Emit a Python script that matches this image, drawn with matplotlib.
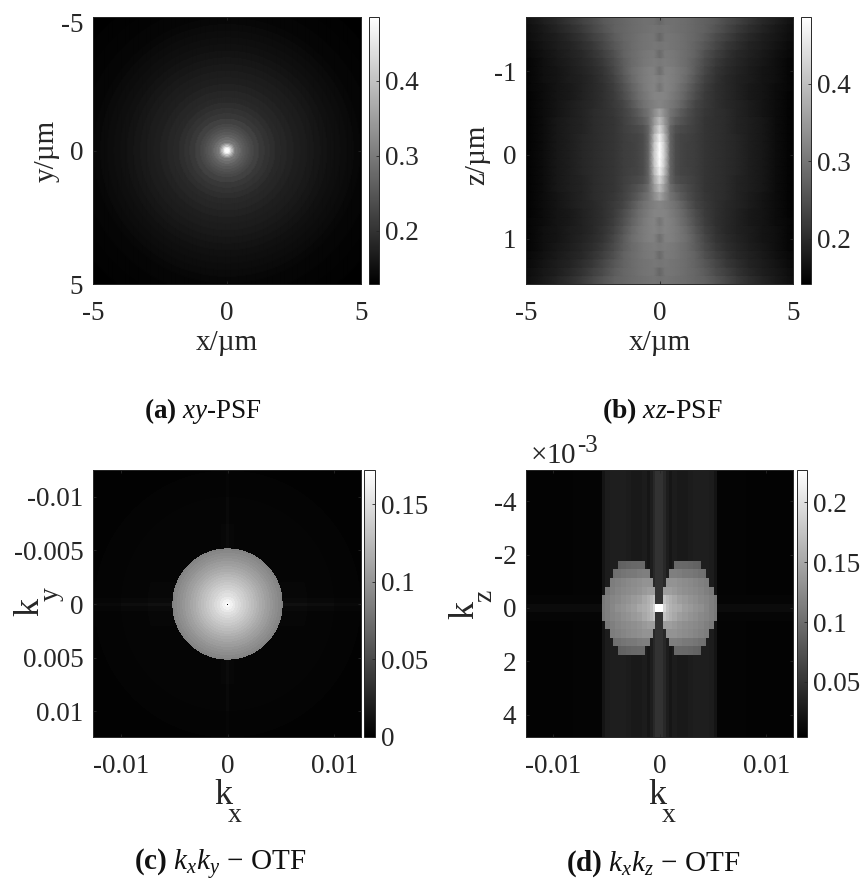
import numpy as np
import matplotlib
matplotlib.use("Agg")
from matplotlib import pyplot as plt
from matplotlib.transforms import ScaledTranslation

plt.rcParams['font.family'] = ['Liberation Serif', 'DejaVu Serif']
plt.rcParams['mathtext.fontset'] = 'custom'
plt.rcParams['mathtext.rm'] = 'Liberation Serif'
plt.rcParams['mathtext.it'] = 'Liberation Serif:italic'
plt.rcParams['mathtext.bf'] = 'Liberation Serif:bold'
plt.rcParams['axes.unicode_minus'] = False

W, H = 860, 882
INK = "#262626"

# panel a: radial rings of the xy-PSF
a_ring_r = [.05, .1, .15, .2, .25, .3, .4, .5, .6, .7, .8, .9, 1.0, 1.2, 1.4, 1.6, 1.8, 2.0, 2.25, 2.5,
            2.75, 3.0, 3.25, 3.5, 3.75, 4.0, 4.25, 4.5, 4.75, 5.0, 5.5, 6.0, 6.5, 7.2]
a_ring_v = [.485, .48, .45, .40, .36, .325, .295, .28, .265, .255, .245, .237, .23, .22, .208, .200, .193, .187,
            .182, .177, .172, .168, .164, .160, .156, .152, .149, .146, .143, .140, .137, .134, .132, .130]

# panel b: xz-PSF, rows are |z| = 0, 0.1 .. 1.6, columns sit at b_col_x
b_col_x = [0, .2, .4, .6, .8, 1.05, 1.35, 1.7, 2.1, 2.5, 2.9, 3.35, 3.85, 4.35, 4.8, 5.2]
b_table = [
    [.486, .410, .280, .245, .235, .228, .225, .214, .207, .200, .194, .183, .173, .159, .149, .144],
    [.482, .405, .280, .245, .235, .228, .225, .214, .207, .200, .194, .183, .173, .159, .149, .144],
    [.465, .390, .280, .245, .235, .231, .225, .214, .207, .200, .194, .183, .173, .159, .149, .144],
    [.430, .365, .280, .252, .242, .235, .227, .214, .207, .200, .190, .183, .173, .159, .149, .144],
    [.395, .345, .292, .268, .255, .242, .228, .214, .207, .200, .190, .183, .173, .159, .149, .144],
    [.360, .330, .298, .282, .265, .248, .232, .216, .207, .200, .190, .180, .170, .159, .149, .144],
    [.321, .315, .305, .295, .280, .258, .235, .220, .207, .197, .190, .180, .170, .159, .149, .144],
    [.320, .320, .310, .300, .288, .268, .245, .222, .207, .197, .187, .176, .170, .159, .149, .144],
    [.300, .320, .315, .305, .292, .275, .250, .226, .207, .197, .187, .176, .170, .159, .152, .146],
    [.310, .320, .315, .308, .298, .283, .258, .232, .211, .197, .187, .180, .170, .163, .152, .146],
    [.290, .315, .315, .308, .300, .288, .265, .238, .214, .200, .190, .180, .170, .163, .152, .146],
    [.305, .310, .306, .302, .295, .285, .268, .244, .221, .204, .194, .183, .173, .163, .152, .146],
    [.285, .306, .305, .301, .294, .287, .274, .250, .228, .211, .197, .187, .176, .166, .156, .150],
    [.300, .304, .300, .297, .293, .286, .276, .259, .238, .218, .204, .190, .180, .170, .159, .152],
    [.280, .300, .300, .297, .293, .286, .280, .266, .245, .228, .211, .197, .183, .173, .163, .156],
    [.295, .298, .296, .293, .290, .286, .280, .273, .255, .238, .221, .204, .190, .176, .166, .158],
    [.283, .293, .293, .293, .290, .286, .280, .273, .262, .245, .231, .214, .197, .183, .170, .162],
]

# panel c: kx-ky OTF, disc profile and the faint surroundings
c_disc_r = [.00025, .0005, .00075, .001, .00125, .0015, .00175, .002, .00225, .0025, .00275,
            .003, .00325, .0035, .00375, .004, .00425, .0045, .00475, .005, .00518]
c_disc_v = [.168, .163, .157, .151, .147, .143, .139, .135, .131, .127, .123,
            .119, .115, .112, .108, .105, .101, .098, .095, .092, .089]
c_out_r = [.0075, .010, .0125, .019]
c_out_v = [.004, .0035, .003, .002]
c_out_fade = [1, .8, .6, .5]
c_streak_w = [.00015, .0006, .002, .004]
c_streak_v = [.011, .007, .005, .004]

# panel d: kx-kz OTF, lobes per |row| and the vertical background stripes
d_col_k = [.25, .5, .75, 1.0, 1.5, 2.0, 2.5, 3.0, 3.5, 4.0, 4.5, 5.0, 5.25, 8.0, 14.0]
d_bg = [.048, .040, .030, .024, .029, .026, .026, .029, .031, .031, .031, .029, .022, .008, .007]
d_row_streak = [.014, .009]
d_lobe_in = [0, .3, .45, .55, .95, 1.4]
d_lobe_out = [5.25, 5.25, 5.05, 4.7, 4.35, 3.9]
d_lobe = [
    [.227, .190, .170, .160, .155, .151, .142, .138, .133, .129, .122, .115, .111],
    [.193, .175, .165, .158, .151, .142, .138, .133, .129, .124, .120, .115, .109],
    [.142, .142, .142, .142, .138, .133, .129, .126, .124, .120, .115, .111, .106],
    [.133, .133, .133, .133, .133, .129, .126, .124, .120, .117, .113, .109, .104],
    [.115, .115, .115, .115, .115, .113, .111, .109, .106, .104, .100, .097, .097],
    [.097, .097, .097, .097, .097, .097, .095, .093, .091, .089, .089, .089, .089],
]

# tick values and labels
a_ticks = [-5, 0, 5]
a_labels = ["-5", "0", "5"]
b_zticks = [-1, 0, 1]
b_zlabels = ["-1", "0", "1"]
c_xticks = [-.01, 0, .01]
c_xlabels = ["-0.01", "0", "0.01"]
c_yticks = [-.01, -.005, 0, .005, .01]
c_ylabels = ["-0.01", "-0.005", "0", "0.005", "0.01"]
d_zticks = [-4e-3, -2e-3, 0, 2e-3, 4e-3]
d_zlabels = ["-4", "-2", "0", "2", "4"]
cb_a = ([.2, .3, .4], ["0.2", "0.3", "0.4"], .129, .485)
cb_b = ([.2, .3, .4], ["0.2", "0.3", "0.4"], .142, .486)
cb_c = ([0, .05, .1, .15], ["0", "0.05", "0.1", "0.15"], 0, .172)
cb_d = ([.05, .1, .15, .2], ["0.05", "0.1", "0.15", "0.2"], .004, .227)


def box(x0, y0, x1, y1):
    return [x0 / W, 1 - y1 / H, (x1 - x0) / W, (y1 - y0) / H]


def lookup(vals, edges, q):
    idx = np.searchsorted(edges, q, side="left")
    return np.asarray(vals)[np.clip(idx, 0, len(vals) - 1)]


# build the images
g = np.linspace(-5, 5, 267)
X, Y = np.meshgrid(g, g)
img_a = lookup(a_ring_v, a_ring_r, np.hypot(X, Y))

# panel b goes through a gouraud mesh: smooth across x, blocky rows in z
b_rows = np.arange(-16, 16)
b_half = np.asarray(b_table)
b_full = np.hstack([b_half[:, :0:-1], b_half])[np.abs(b_rows)]
b_mesh_x = np.r_[-np.asarray(b_col_x)[:0:-1], b_col_x]
b_mesh_y = np.repeat(b_rows * 0.1, 2) + np.tile([-.047, .047], len(b_rows))
b_mesh_c = np.repeat(b_full, 2, axis=0)

g = np.arange(-133, 134) * 0.0125 / 133
X, Y = np.meshgrid(g, g)
R = np.hypot(X, Y)
img_c = lookup(c_out_v, c_out_r, R)
streak = np.where(np.abs(Y) < 0.004, lookup(c_streak_v, c_streak_w, np.abs(Y)), 0)
streak = np.maximum(streak, np.where(np.abs(X) < 0.004, lookup(c_streak_v, c_streak_w, np.abs(X)) * 0.7, 0))
img_c = np.maximum(img_c, streak * lookup(c_out_fade, c_out_r, R))
img_c[R < .00518] = lookup(c_disc_v, c_disc_r, R[R < .00518])
img_c[133, 133] = 0

d_k = np.arange(-53, 54) * 0.25
d_rows = np.arange(-17, 17)
cols = np.clip(np.searchsorted(d_col_k, np.abs(d_k), side="left"), 0, 14)
img_d = np.tile(np.asarray(d_bg)[cols], (len(d_rows), 1))
for i, r in enumerate(np.abs(d_rows)):
    if r < len(d_row_streak):
        out = np.abs(d_k) > d_lobe_out[r]
        img_d[i, out] = np.maximum(img_d[i, out], d_row_streak[r])
    if r < len(d_lobe):
        m = (np.abs(d_k) >= d_lobe_in[r]) & (np.abs(d_k) <= d_lobe_out[r])
        img_d[i, m] = np.asarray(d_lobe[r])[np.clip(cols[m], 0, 12)]

fig = plt.figure(figsize=(W / 100, H / 100), dpi=100)


def panel(rect, cbrect, draw, xlim, ylim, xt, xl, yt, yl, cb):
    ax = fig.add_axes(box(*rect))
    im = draw(ax, dict(cmap="gray", vmin=cb[2], vmax=cb[3]))
    ax.set_xlim(xlim)
    ax.set_ylim(ylim)
    ax.set_xticks(xt, xl)
    ax.set_yticks(yt, yl)
    ax.tick_params(direction="in", length=2.5, width=0.6, color=INK, labelcolor=INK, labelsize=19.5,
                   top=True, right=True)
    ax.tick_params(axis="x", pad=12)
    ax.tick_params(axis="y", pad=7)
    for s in ax.spines.values():
        s.set_linewidth(0.7)
        s.set_color(INK)
    cax = fig.add_axes(box(*cbrect))
    cbar = fig.colorbar(im, cax=cax)
    cbar.set_ticks(cb[0], labels=cb[1])
    cax.tick_params(direction="in", length=2.5, width=0.6, color=INK, labelcolor=INK, labelsize=19.5, pad=4)
    cbar.outline.set_linewidth(0.7)
    cbar.outline.set_edgecolor(INK)
    return ax


def show(img, extent, interp):
    return lambda ax, kw: ax.imshow(img, extent=extent, origin="upper", aspect="auto", interpolation=interp, **kw)


ax_a = panel((93, 17, 361, 284), (369, 17, 379, 284), show(img_a, (-5, 5, 5, -5), "bilinear"), (-5, 5), (5, -5),
             a_ticks, a_labels, a_ticks, a_labels, cb_a)
ax_b = panel((526, 17, 793, 284), (801, 17, 811, 284),
             lambda ax, kw: ax.pcolormesh(b_mesh_x, b_mesh_y, b_mesh_c, shading="gouraud", **kw),
             (-5, 5), (1.54, -1.647), a_ticks, a_labels, b_zticks, b_zlabels, cb_b)
ax_c = panel((93, 470, 361, 737), (364, 470, 375, 737), show(img_c, (-.0125, .0125, .0125, -.0125), "nearest"),
             (-.0126, .0125), (.0124, -.0125), c_xticks, c_xlabels, c_yticks, c_ylabels, cb_c)
ax_d = panel((526, 470, 793, 737), (797, 470, 807, 737),
             show(img_d, (-13.375e-3, 13.375e-3, 5.28e-3, -5.6e-3), "nearest"),
             (-.0125, .0125), (4.84e-3, -5.17e-3), c_xticks, c_xlabels, d_zticks, d_zlabels, cb_d)

# the top "-5" sits lower than its tick in the reference
ax_a.get_yticklabels()[0].set_transform(
    ax_a.get_yticklabels()[0].get_transform() + ScaledTranslation(0, -5 / 100, fig.dpi_scale_trans))


def put(x, y, s, size=21, rot=0, ha="center"):
    fig.text(x / W, 1 - y / H, s, fontsize=size, rotation=rot, ha=ha, va="center", color=INK)


put(227, 343, "x/µm")
put(660, 343, "x/µm")
put(47, 151, "y/µm", rot=90)
put(477, 155, "z/µm", rot=90)

# kx, ky, kz labels: the subscript hangs well below the letter
put(223, 795, "k", 26)
put(235, 816, "x", 20)
put(657, 795, "k", 26)
put(669, 816, "x", 20)
put(30, 607, "k", 26, rot=90)
put(51, 594, "y", 20, rot=90)
put(465, 610, "k", 26, rot=90)
put(485, 596, "z", 20, rot=90)

fig.text(530 / W, 1 - 456 / H, r"$\times$10", fontsize=21, color=INK, va="center")
fig.text(577 / W, 1 - 446 / H, "-3", fontsize=18, color=INK, va="center")

CAP = "#111111"
fig.text(203 / W, 1 - 411 / H, r"$\mathbf{(a)}$ $\mathit{xy}$-PSF", fontsize=19.5, ha="center", va="center", color=CAP)
fig.text(662 / W, 1 - 411 / H, r"$\mathbf{(b)}$ $\mathit{xz}$-PSF", fontsize=20, ha="center", va="center", color=CAP)
fig.text(220 / W, 1 - 864 / H, r"$\mathbf{(c)}$ $\mathit{k_x k_y}$$\,-\,$OTF", fontsize=21, ha="center", va="center", color=CAP)
fig.text(653 / W, 1 - 864 / H, r"$\mathbf{(d)}$ $\mathit{k_x k_z}$$\,-\,$OTF", fontsize=21, ha="center", va="center", color=CAP)

fig.savefig("out.png", dpi=100)
